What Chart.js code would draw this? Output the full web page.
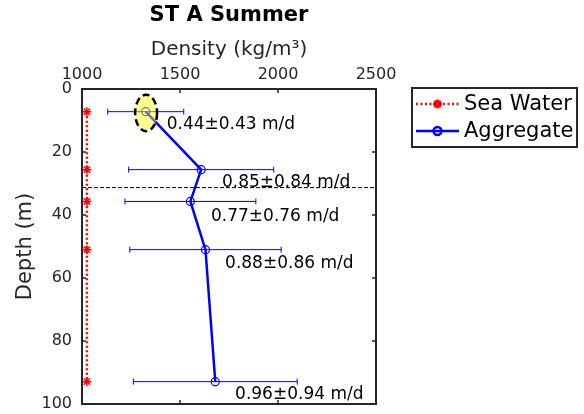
<!DOCTYPE html>
<html><head><meta charset="utf-8">
<script src="https://cdn.jsdelivr.net/npm/chart.js@4"></script>
<style>html,body{margin:0;padding:0;background:#fff}</style>
</head><body><canvas id="c" width="584" height="414"></canvas>
<script>
const depths = [7.2, 25.6, 35.7, 51.0, 92.9];
const aggregateDensity = [1325, 1608, 1553, 1630, 1680];
const aggregateError = [194, 370, 334, 386, 418];
const seaWaterDensity = [1025, 1025, 1025, 1025, 1025];
const velocityLabels = ['0.44\u00B10.43 m/d', '0.85\u00B10.84 m/d', '0.77\u00B10.76 m/d', '0.88\u00B10.86 m/d', '0.96\u00B10.94 m/d'];
const labelDensity = [1432, 1714, 1658, 1730, 1781];
const labelDepth = [11.4, 29.7, 40.6, 55.5, 97.0];
const thermoclineDepth = [31.3];
const highlightCenter = [1327, 7.6];
const highlightRadii = [56, 5.8];
const xTicks = [1000, 1500, 2000, 2500];
const yTicks = [0, 20, 40, 60, 80, 100];

const FONT = "'DejaVu Sans', sans-serif";
const AX = '#262626';

const aggData = depths.map((d, i) => ({x: aggregateDensity[i], y: d}));
const seaData = depths.map((d, i) => ({x: seaWaterDensity[i], y: d}));
const lineData = [{x: xTicks[0], y: thermoclineDepth[0]}, {x: xTicks[xTicks.length - 1], y: thermoclineDepth[0]}];

const decor = {
  id: 'decor',
  beforeDatasetsDraw(chart) {
    const ctx = chart.ctx, xs = chart.scales.x, ys = chart.scales.y;
    ctx.save();
    ctx.strokeStyle = '#0000FF';
    ctx.lineWidth = 1;
    depths.forEach((d, i) => {
      const y = ys.getPixelForValue(d);
      const x1 = xs.getPixelForValue(aggregateDensity[i] - aggregateError[i]);
      const x2 = xs.getPixelForValue(aggregateDensity[i] + aggregateError[i]);
      ctx.beginPath();
      ctx.moveTo(x1, y); ctx.lineTo(x2, y);
      ctx.moveTo(x1, y - 3); ctx.lineTo(x1, y + 3);
      ctx.moveTo(x2, y - 3); ctx.lineTo(x2, y + 3);
      ctx.stroke();
    });
    ctx.restore();
  },
  afterDatasetsDraw(chart) {
    const ctx = chart.ctx, xs = chart.scales.x, ys = chart.scales.y, a = chart.chartArea;
    ctx.save();
    // highlight ellipse
    const cx = xs.getPixelForValue(highlightCenter[0]);
    const cy = ys.getPixelForValue(highlightCenter[1]);
    const rx = Math.abs(xs.getPixelForValue(highlightCenter[0] + highlightRadii[0]) - cx);
    const ry = Math.abs(ys.getPixelForValue(highlightCenter[1] + highlightRadii[1]) - cy);
    ctx.beginPath();
    ctx.ellipse(cx, cy, rx, ry, 0, 0, Math.PI * 2);
    ctx.fillStyle = 'rgba(255,255,0,0.45)';
    ctx.fill();
    ctx.setLineDash([7, 4]);
    ctx.lineWidth = 2.5;
    ctx.strokeStyle = '#000';
    ctx.stroke();
    ctx.setLineDash([]);
    // labels
    ctx.fillStyle = '#000';
    ctx.font = '17px ' + FONT;
    ctx.textAlign = 'left';
    ctx.textBaseline = 'middle';
    velocityLabels.forEach((t, i) => {
      ctx.fillText(t, xs.getPixelForValue(labelDensity[i]), ys.getPixelForValue(labelDepth[i]));
    });
    // box
    ctx.strokeStyle = AX;
    ctx.lineWidth = 2;
    ctx.strokeRect(a.left, a.top, a.right - a.left, a.bottom - a.top);
    ctx.lineWidth = 1.5;
    ctx.beginPath();
    xTicks.forEach(v => {
      const x = xs.getPixelForValue(v);
      ctx.moveTo(x, a.top); ctx.lineTo(x, a.top + 4);
      ctx.moveTo(x, a.bottom); ctx.lineTo(x, a.bottom - 4);
    });
    yTicks.forEach(v => {
      const y = ys.getPixelForValue(v);
      ctx.moveTo(a.left, y); ctx.lineTo(a.left + 4, y);
      ctx.moveTo(a.right, y); ctx.lineTo(a.right - 4, y);
    });
    ctx.stroke();
    // legend
    const lx = 412, ly = 88, lw = 165, lh = 59;
    ctx.fillStyle = '#fff';
    ctx.fillRect(lx, ly, lw, lh);
    ctx.strokeStyle = AX;
    ctx.lineWidth = 2;
    ctx.strokeRect(lx, ly, lw, lh);
    const rows = [
      {y: 104, label: chart.data.datasets[0].label, ds: chart.data.datasets[0]},
      {y: 131, label: chart.data.datasets[1].label, ds: chart.data.datasets[1]}
    ];
    rows.forEach(r => {
      ctx.strokeStyle = r.ds.borderColor;
      ctx.lineWidth = r.ds.borderWidth;
      ctx.setLineDash(r.ds.borderDash || []);
      ctx.beginPath();
      ctx.moveTo(416, r.y); ctx.lineTo(459, r.y);
      ctx.stroke();
      ctx.setLineDash([]);
      ctx.fillStyle = r.ds.backgroundColor;
      ctx.strokeStyle = r.ds.borderColor;
      Chart.helpers.drawPoint(ctx, {pointStyle: r.ds.pointStyle, radius: r.ds.pointRadius, borderWidth: 1.2, rotation: 0}, 437.5, r.y);
      ctx.fillStyle = '#000';
      ctx.font = '21px ' + FONT;
      ctx.textAlign = 'left';
      ctx.textBaseline = 'middle';
      ctx.fillText(r.label, 464, r.y + 1);
    });
    ctx.restore();
  }
};

new Chart(document.getElementById('c'), {
  type: 'scatter',
  data: {
    datasets: [
      {label: 'Sea Water', data: seaData, showLine: true, borderColor: '#FF0000', backgroundColor: '#FF0000',
       borderWidth: 2.5, borderDash: [2, 2.5], pointStyle: 'star', pointRadius: 4.5, pointBorderWidth: 1.5, clip: false},
      {label: 'Aggregate', data: aggData, showLine: true, borderColor: '#0000FF', backgroundColor: 'rgba(0,0,0,0)',
       borderWidth: 2.5, pointStyle: 'circle', pointRadius: 4, pointBorderWidth: 1.2},
      {label: 'ref', data: lineData, showLine: true, borderColor: '#000', borderWidth: 1, borderDash: [4, 2],
       pointRadius: 0}
    ]
  },
  options: {
    responsive: false,
    devicePixelRatio: 1,
    animation: false,
    layout: {padding: {left: 0, right: 208, top: 0, bottom: 10}},
    plugins: {
      legend: {display: false},
      tooltip: {enabled: false},
      title: {display: true, text: 'ST A Summer', fullSize: false, color: '#000',
              font: {family: FONT, size: 21, weight: 'bold'}, padding: {top: 3, bottom: 0}}
    },
    scales: {
      x: {
        type: 'linear', position: 'top', min: 1000, max: 2500,
        afterBuildTicks: s => { s.ticks = xTicks.map(v => ({value: v})); },
        afterFit: s => { s.height = 60.8; s.paddingLeft = 0; s.paddingRight = 0; },
        grid: {display: false, drawTicks: false},
        border: {display: false},
        ticks: {color: AX, font: {family: FONT, size: 16}, padding: 5, maxRotation: 0, callback: v => String(v)},
        title: {display: true, text: 'Density (kg/m\u00B3)', color: AX, font: {family: FONT, size: 20}, padding: {top: 10, bottom: 0}}
      },
      y: {
        type: 'linear', reverse: true, min: 0, max: 100,
        afterBuildTicks: s => { s.ticks = yTicks.map(v => ({value: v})); },
        afterFit: s => { s.width = 82; s.paddingTop = 0; s.paddingBottom = 0; },
        grid: {display: false, drawTicks: false},
        border: {display: false},
        ticks: {color: AX, font: {family: FONT, size: 16}, padding: 10, callback: v => String(v)},
        title: {display: true, text: 'Depth (m)', color: AX, font: {family: FONT, size: 21}, padding: {top: 13, bottom: 0}}
      }
    }
  },
  plugins: [decor]
});
</script></body></html>
